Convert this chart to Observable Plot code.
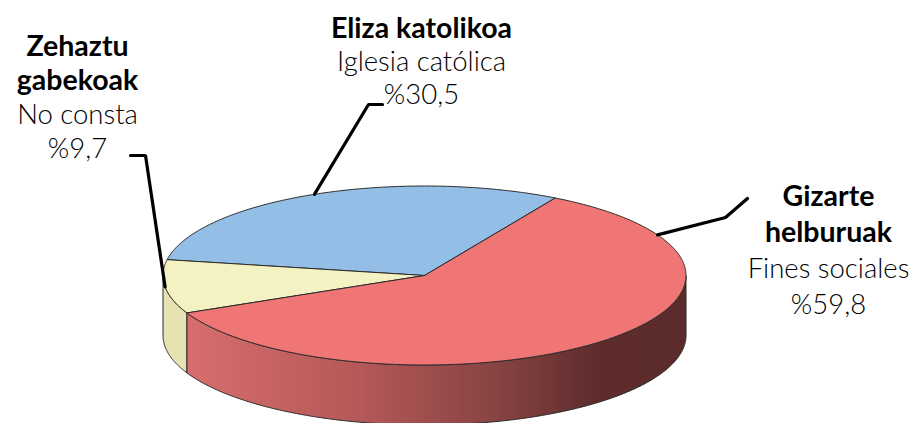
<!DOCTYPE html>
<html>
<head>
<meta charset="utf-8">
<script src="https://cdn.jsdelivr.net/npm/d3@7"></script>
<script src="https://cdn.jsdelivr.net/npm/@observablehq/plot@0.6"></script>
<style>
  html, body { margin: 0; padding: 0; background: #fff; }
  #chart { width: 912px; height: 423px; overflow: hidden; }
</style>
</head>
<body>
<div id="chart"></div>
<script>
// ---- data (counter-clockwise drawing order, starting at the blue/red edge) ----
const categoriesEu = ["Eliza katolikoa", "Zehaztu\ngabekoak", "Gizarte\nhelburuak"];
const categoriesEs = ["Iglesia católica", "No consta", "Fines sociales"];
const values = [30.5, 9.7, 59.8];
const percentLabels = ["%30,5", "%9,7", "%59,8"];

// ---- style / layout ----
const topColors  = ["#93bfe6", "#f4f1c2", "#f07676"];
const sideColors = ["#6f93b3", "#e7e2b2", "url(#redSide)"];
const START = 60;                 // degrees, math orientation
const CX = 424, CY = 275, RX = 261.5, RY = 89.5, DEPTH = 60;
const D = DEPTH / RY;             // depth in y data units
const px2x = px => (px - CX) / RX;
const py2y = py => (CY - py) / RY;

// label layout: centre x, first baseline, line step (pixels)
const labelLayout = [
  {x: 421, y0: 37, step: 33},
  {x: 77,  y0: 55, step: 34},
  {x: 828, y0: 205, step: 36}
];
// leader layout: attach angle on rim (null = slice middle), elbow, end (pixels)
const leaderLayout = [
  {angle: null, pts: [[368, 104], [382, 104]]},
  {angle: null, pts: [[145, 155], [130, 155]]},
  {angle: 27,   pts: [[725, 217], [747, 198]]}
];

const rad = Math.PI / 180;
let acc = START;
const slices = values.map((v, i) => {
  const a = acc, b = acc + v / 100 * 360;
  acc = b;
  return {i, a, b};
});

function arc(a, b, dy = 0) {
  const n = Math.max(2, Math.ceil(Math.abs(b - a) * 2));
  const out = [];
  for (let k = 0; k <= n; k++) {
    const t = (a + (b - a) * k / n) * rad;
    out.push({x: Math.cos(t), y: Math.sin(t) - dy});
  }
  return out;
}

const topPolys = slices.map(s => {
  const pts = [{x: 0, y: 0}, ...arc(s.a, s.b), {x: 0, y: 0}];
  return {i: s.i, pts};
});

const sidePolys = [];
slices.forEach(s => {
  for (const off of [0, 360]) {
    const lo = Math.max(s.a, 180 + off), hi = Math.min(s.b, 360 + off);
    if (hi > lo) {
      const topArc = arc(lo, hi);
      const botArc = arc(hi, lo, D);
      sidePolys.push({i: s.i, pts: [...topArc, ...botArc, topArc[0]]});
    }
  }
});

const leaderRows = [];
slices.forEach(s => {
  const L = leaderLayout[s.i];
  const ang = (L.angle == null ? (s.a + s.b) / 2 : L.angle) * rad;
  leaderRows.push({k: s.i, x: Math.cos(ang), y: Math.sin(ang)});
  L.pts.forEach(([px, py]) => leaderRows.push({k: s.i, x: px2x(px), y: py2y(py)}));
});

const boldRows = [], lightRows = [];
const FSB = 28.5, FSL = 27.5;
categoriesEu.forEach((eu, i) => {
  const L = labelLayout[i];
  const lines = eu.split("\n");
  let j = 0;
  lines.forEach(t => { boldRows.push({t, x: px2x(L.x), y: py2y(L.y0 + j * L.step - 0.32 * FSB)}); j++; });
  [categoriesEs[i], percentLabels[i]].forEach(t => {
    lightRows.push({t, x: px2x(L.x), y: py2y(L.y0 + j * L.step - 0.32 * FSL)}); j++;
  });
});

const marks = [];
sidePolys.forEach(p => marks.push(Plot.line(p.pts, {
  x: "x", y: "y", fill: sideColors[p.i], stroke: "#2a2a2a", strokeWidth: 1, strokeLinejoin: "round"
})));
topPolys.forEach(p => marks.push(Plot.line(p.pts, {
  x: "x", y: "y", fill: topColors[p.i], stroke: "#2a2a2a", strokeWidth: 1, strokeLinejoin: "round"
})));
marks.push(Plot.line(leaderRows, {x: "x", y: "y", z: "k", stroke: "#000", strokeWidth: 3.2, strokeLinejoin: "miter"}));
marks.push(Plot.text(boldRows, {x: "x", y: "y", text: "t", fontSize: FSB, fontWeight: "bold",
  fontFamily: "Lato, 'Open Sans', sans-serif", fill: "#000", lineAnchor: "middle", textAnchor: "middle"}));
marks.push(Plot.text(lightRows, {x: "x", y: "y", text: "t", fontSize: FSL, fontWeight: 300,
  fontFamily: "Lato, 'Open Sans', sans-serif", fill: "#000", lineAnchor: "middle", textAnchor: "middle"}));

const chart = Plot.plot({
  width: 912, height: 423,
  margin: 0,
  x: {domain: [-1, 1], range: [CX - RX, CX + RX], axis: null},
  y: {domain: [-1, 1], range: [CY + RY, CY - RY], axis: null},
  style: {background: "#fff", overflow: "hidden"},
  marks
});

const svg = d3.select(chart);
const defs = svg.insert("defs", ":first-child");
const g = defs.append("linearGradient").attr("id", "redSide")
  .attr("x1", "0%").attr("x2", "100%").attr("y1", "0%").attr("y2", "0%");
[["0%", "#d86d6d"], ["35%", "#b45858"], ["62%", "#884343"], ["82%", "#5f2c2c"], ["100%", "#5b2b2b"]]
  .forEach(([o, c]) => g.append("stop").attr("offset", o).attr("stop-color", c));

document.getElementById("chart").appendChild(chart);
</script>
</body>
</html>
